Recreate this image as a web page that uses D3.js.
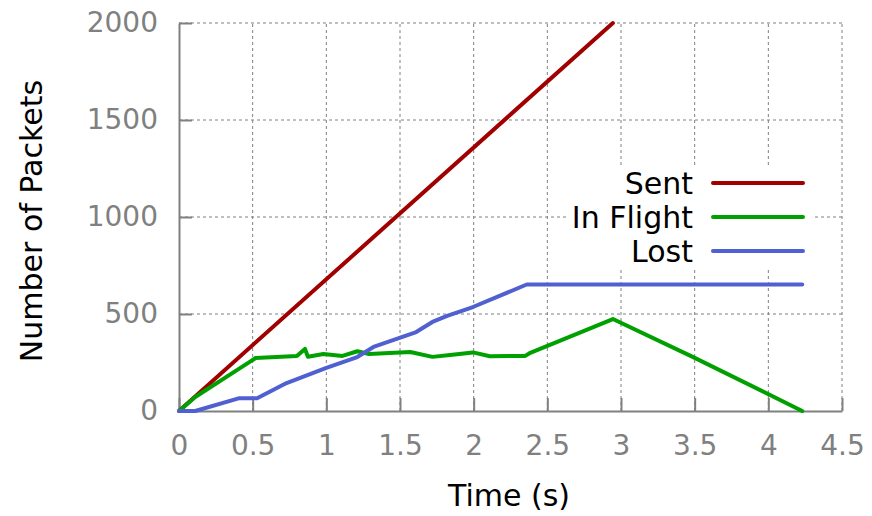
<!DOCTYPE html>
<html>
<head>
<meta charset="utf-8">
<script src="https://cdn.jsdelivr.net/npm/d3@7"></script>
<style>
  body { margin: 0; background: #fff; }
  text { font-family: "DejaVu Sans", sans-serif; }
</style>
</head>
<body>
<div id="chart" style="width:872px;height:516px"></div>
<script>
// series: [time (s), packets]
const sent = [[0, 0], [2.945, 2000]];
const inFlight = [[0, 0], [0.11, 72], [0.48, 253], [0.52, 273], [0.80, 283], [0.855, 320], [0.875, 280],
  [0.98, 294], [1.11, 284], [1.21, 308], [1.29, 294], [1.57, 304], [1.72, 279], [1.84, 289],
  [1.995, 302], [2.11, 282], [2.35, 284], [2.38, 298], [2.945, 474], [3.49, 278], [4.23, 0]];
const lost = [[0, 0], [0.11, 0], [0.41, 66], [0.53, 66], [0.73, 144], [1.0, 222], [1.21, 278],
  [1.32, 330], [1.61, 407], [1.72, 459], [1.82, 490], [1.995, 536], [2.36, 652], [4.23, 652]];

const xTicks = [0, 0.5, 1, 1.5, 2, 2.5, 3, 3.5, 4, 4.5];
const yTicks = [0, 500, 1000, 1500, 2000];
const seriesNames = ["Sent", "In Flight", "Lost"];
const seriesColors = ["#a00000", "#00a000", "#5060d0"];

const width = 872, height = 516;
const margin = { top: 23, left: 179, right: 30, bottom: 105 };

const svg = d3.select("#chart").append("svg")
    .attr("width", width)
    .attr("height", height);

const xScale = d3.scaleLinear().domain([0, 4.5]).range([margin.left, width - margin.right]);
const yScale = d3.scaleLinear().domain([0, 2000]).range([height - margin.bottom, margin.top]);

// grid
svg.append("g").selectAll("line").data(xTicks.slice(1)).join("line")
    .attr("x1", d => xScale(d)).attr("x2", d => xScale(d))
    .attr("y1", yScale(0)).attr("y2", yScale(2000))
    .attr("stroke", "#808080").attr("stroke-width", 1).attr("stroke-dasharray", "3,3");
svg.append("g").selectAll("line").data(yTicks.slice(1)).join("line")
    .attr("x1", xScale(0)).attr("x2", xScale(4.5))
    .attr("y1", d => yScale(d)).attr("y2", d => yScale(d))
    .attr("stroke", "#808080").attr("stroke-width", 1).attr("stroke-dasharray", "3,3");

// axes
const xAxis = svg.append("g")
    .attr("transform", `translate(0,${yScale(0)})`)
    .call(d3.axisBottom(xScale).tickValues(xTicks).tickSizeInner(-13).tickSizeOuter(0).tickPadding(24)
        .tickFormat(d => String(d)));
const yAxis = svg.append("g")
    .attr("transform", `translate(${xScale(0)},0)`)
    .call(d3.axisLeft(yScale).tickValues(yTicks).tickSizeInner(-13).tickSizeOuter(0).tickPadding(21)
        .tickFormat(d => String(d)));

[xAxis, yAxis].forEach(g => {
  g.select(".domain").attr("stroke", "#808080").attr("stroke-width", 2);
  g.selectAll(".tick line").attr("stroke", "#808080").attr("stroke-width", 2);
  g.selectAll(".tick text").attr("fill", "#808080").style("font-size", "28px");
});

// lines
const line = d3.line().x(d => xScale(d[0])).y(d => yScale(d[1]));
[sent, inFlight, lost].forEach((s, i) => {
  svg.append("path").datum(s)
      .attr("d", line)
      .attr("fill", "none")
      .attr("stroke", seriesColors[i])
      .attr("stroke-width", 4)
      .attr("stroke-linejoin", "round")
      .attr("stroke-linecap", "round");
});

// legend
const legend = svg.append("g");
legend.append("rect")
    .attr("x", 566).attr("y", 165).attr("width", 246).attr("height", 102)
    .attr("fill", "#fff");
seriesNames.forEach((name, i) => {
  const y = 183 + i * 34;
  legend.append("text")
      .attr("x", 693).attr("y", y).attr("dy", "0.36em")
      .attr("text-anchor", "end")
      .style("font-size", "30px")
      .attr("fill", "#000")
      .text(name);
  legend.append("line")
      .attr("x1", 713).attr("x2", 803).attr("y1", y).attr("y2", y)
      .attr("stroke", seriesColors[i]).attr("stroke-width", 4)
      .attr("stroke-linecap", "round");
});

// axis labels
svg.append("text")
    .attr("x", 509).attr("y", 506)
    .attr("text-anchor", "middle")
    .style("font-size", "30px")
    .text("Time (s)");
svg.append("text")
    .attr("transform", "rotate(-90)")
    .attr("x", -221).attr("y", 42)
    .attr("text-anchor", "middle")
    .style("font-size", "30px")
    .text("Number of Packets");
</script>
</body>
</html>
